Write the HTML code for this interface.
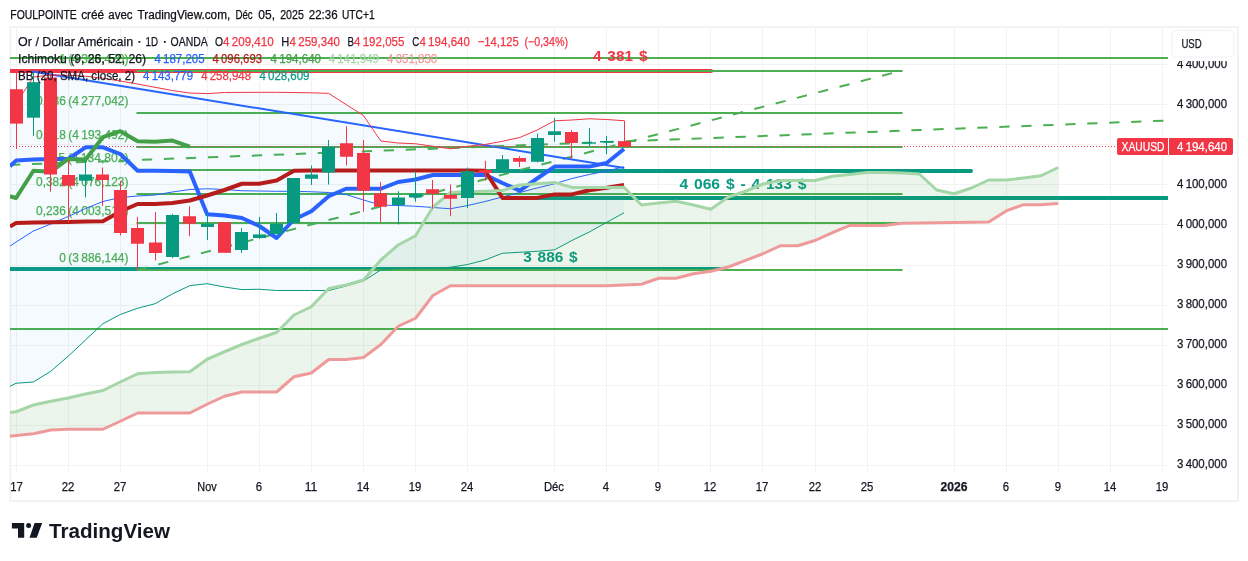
<!DOCTYPE html><html><head><meta charset="utf-8"><title>chart</title><style>html,body{margin:0;padding:0;background:#fff}svg{display:block;will-change:transform;opacity:0.9999}text.n{word-spacing:-1px}text.b{word-spacing:1.4px}</style></head><body><svg width="1248" height="561" viewBox="0 0 1248 561" font-family="Liberation Sans, sans-serif" font-size="12" fill="#131722">
<rect width="1248" height="561" fill="#fff"/>
<rect x="10.3" y="27.2" width="1227.7" height="473.8" fill="none" stroke="#eff0f2" stroke-width="1.7"/>
<defs><clipPath id="pane"><rect x="10" y="27" width="1158" height="440"/></clipPath></defs>
<line x1="16.5" y1="27" x2="16.5" y2="472" stroke="#f2f2f3" stroke-width="1"/>
<line x1="68.5" y1="27" x2="68.5" y2="472" stroke="#f2f2f3" stroke-width="1"/>
<line x1="120.5" y1="27" x2="120.5" y2="472" stroke="#f2f2f3" stroke-width="1"/>
<line x1="207.5" y1="27" x2="207.5" y2="472" stroke="#f2f2f3" stroke-width="1"/>
<line x1="259.5" y1="27" x2="259.5" y2="472" stroke="#f2f2f3" stroke-width="1"/>
<line x1="311.5" y1="27" x2="311.5" y2="472" stroke="#f2f2f3" stroke-width="1"/>
<line x1="363.5" y1="27" x2="363.5" y2="472" stroke="#f2f2f3" stroke-width="1"/>
<line x1="415.5" y1="27" x2="415.5" y2="472" stroke="#f2f2f3" stroke-width="1"/>
<line x1="467.5" y1="27" x2="467.5" y2="472" stroke="#f2f2f3" stroke-width="1"/>
<line x1="554.5" y1="27" x2="554.5" y2="472" stroke="#f2f2f3" stroke-width="1"/>
<line x1="606.5" y1="27" x2="606.5" y2="472" stroke="#f2f2f3" stroke-width="1"/>
<line x1="658.5" y1="27" x2="658.5" y2="472" stroke="#f2f2f3" stroke-width="1"/>
<line x1="710.5" y1="27" x2="710.5" y2="472" stroke="#f2f2f3" stroke-width="1"/>
<line x1="762.5" y1="27" x2="762.5" y2="472" stroke="#f2f2f3" stroke-width="1"/>
<line x1="815.5" y1="27" x2="815.5" y2="472" stroke="#f2f2f3" stroke-width="1"/>
<line x1="867.5" y1="27" x2="867.5" y2="472" stroke="#f2f2f3" stroke-width="1"/>
<line x1="954.5" y1="27" x2="954.5" y2="472" stroke="#f2f2f3" stroke-width="1"/>
<line x1="1006.5" y1="27" x2="1006.5" y2="472" stroke="#f2f2f3" stroke-width="1"/>
<line x1="1058.5" y1="27" x2="1058.5" y2="472" stroke="#f2f2f3" stroke-width="1"/>
<line x1="1110.5" y1="27" x2="1110.5" y2="472" stroke="#f2f2f3" stroke-width="1"/>
<line x1="1162.5" y1="27" x2="1162.5" y2="472" stroke="#f2f2f3" stroke-width="1"/>
<line x1="10" y1="64.5" x2="1168" y2="64.5" stroke="#f2f2f3" stroke-width="1"/>
<line x1="10" y1="104.5" x2="1168" y2="104.5" stroke="#f2f2f3" stroke-width="1"/>
<line x1="10" y1="144.5" x2="1168" y2="144.5" stroke="#f2f2f3" stroke-width="1"/>
<line x1="10" y1="184.5" x2="1168" y2="184.5" stroke="#f2f2f3" stroke-width="1"/>
<line x1="10" y1="224.5" x2="1168" y2="224.5" stroke="#f2f2f3" stroke-width="1"/>
<line x1="10" y1="265.5" x2="1168" y2="265.5" stroke="#f2f2f3" stroke-width="1"/>
<line x1="10" y1="305.5" x2="1168" y2="305.5" stroke="#f2f2f3" stroke-width="1"/>
<line x1="10" y1="345.5" x2="1168" y2="345.5" stroke="#f2f2f3" stroke-width="1"/>
<line x1="10" y1="385.5" x2="1168" y2="385.5" stroke="#f2f2f3" stroke-width="1"/>
<line x1="10" y1="425.5" x2="1168" y2="425.5" stroke="#f2f2f3" stroke-width="1"/>
<line x1="10" y1="465.5" x2="1168" y2="465.5" stroke="#f2f2f3" stroke-width="1"/>
<g clip-path="url(#pane)">
<line x1="10" y1="58" x2="1168" y2="58" stroke="#4caf50" stroke-width="2"/>
<line x1="10" y1="329" x2="1168" y2="329" stroke="#4caf50" stroke-width="2"/>
<line x1="10" y1="71" x2="711" y2="71" stroke="#f23645" stroke-width="4" stroke-linecap="round"/>
<line x1="10" y1="269" x2="722" y2="269" stroke="#089981" stroke-width="4" stroke-linecap="round"/>
<line x1="136.5" y1="71.0" x2="902.5" y2="71.0" stroke="#4caf50" stroke-width="2"/>
<text x="59.2" y="62.8" fill="#4caf50" textLength="69.3" lengthAdjust="spacingAndGlyphs" stroke="#4caf50" stroke-width="0.25" class="n" font-size="12.5">1 (4 383,470)</text>
<line x1="136.5" y1="113.0" x2="902.5" y2="113.0" stroke="#4caf50" stroke-width="2"/>
<text x="36.0" y="104.8" fill="#4caf50" textLength="92.5" lengthAdjust="spacingAndGlyphs" stroke="#4caf50" stroke-width="0.25" class="n" font-size="12.5">0,786 (4 277,042)</text>
<line x1="136.5" y1="147.0" x2="902.5" y2="147.0" stroke="#4caf50" stroke-width="2"/>
<text x="36.0" y="138.8" fill="#4caf50" textLength="92.5" lengthAdjust="spacingAndGlyphs" stroke="#4caf50" stroke-width="0.25" class="n" font-size="12.5">0,618 (4 193,492)</text>
<line x1="136.5" y1="170.0" x2="902.5" y2="170.0" stroke="#4caf50" stroke-width="2"/>
<text x="48.5" y="161.8" fill="#4caf50" textLength="80.0" lengthAdjust="spacingAndGlyphs" stroke="#4caf50" stroke-width="0.25" class="n" font-size="12.5">0,5 (4 134,802)</text>
<line x1="136.5" y1="194.0" x2="902.5" y2="194.0" stroke="#4caf50" stroke-width="2"/>
<text x="36.0" y="185.8" fill="#4caf50" textLength="92.5" lengthAdjust="spacingAndGlyphs" stroke="#4caf50" stroke-width="0.25" class="n" font-size="12.5">0,382 (4 076,123)</text>
<line x1="136.5" y1="223.0" x2="902.5" y2="223.0" stroke="#4caf50" stroke-width="2"/>
<text x="36.0" y="214.8" fill="#4caf50" textLength="92.5" lengthAdjust="spacingAndGlyphs" stroke="#4caf50" stroke-width="0.25" class="n" font-size="12.5">0,236 (4 003,513)</text>
<line x1="136.5" y1="270.0" x2="902.5" y2="270.0" stroke="#4caf50" stroke-width="2"/>
<text x="59.2" y="261.8" fill="#4caf50" textLength="69.3" lengthAdjust="spacingAndGlyphs" stroke="#4caf50" stroke-width="0.25" class="n" font-size="12.5">0 (3 886,144)</text>
<line x1="491" y1="171" x2="971" y2="171" stroke="#089981" stroke-width="4" stroke-linecap="round"/>
<line x1="505" y1="198" x2="1168" y2="198" stroke="#089981" stroke-width="4"/>
<line x1="10" y1="164.9" x2="1168" y2="120.5" stroke="#4caf50" stroke-width="2" stroke-dasharray="10.3,11.7"/>
<line x1="137" y1="270" x2="902" y2="70.5" stroke="#4caf50" stroke-width="2" stroke-dasharray="10.3,11.7"/>
<line x1="32.4" y1="71.4" x2="624.3" y2="168" stroke="#2962ff" stroke-width="2"/>
<text x="593" y="60.8" class="b" font-size="14.6" font-weight="bold" fill="#f23645" textLength="54.5" lengthAdjust="spacingAndGlyphs">4 381 $</text>
<text x="679.5" y="189.0" class="b" font-size="14.6" font-weight="bold" fill="#089981" textLength="127" lengthAdjust="spacingAndGlyphs">4 066 $ - 4 133 $</text>
<text x="523.2" y="261.5" class="b" font-size="14.6" font-weight="bold" fill="#089981" textLength="54.5" lengthAdjust="spacingAndGlyphs">3 886 $</text>
<line x1="10" y1="146.5" x2="1117" y2="146.5" stroke="#f23645" stroke-width="1" stroke-dasharray="1,2"/>
<polygon points="10.00,114.00 16.06,103.50 33.43,77.00 50.80,75.00 68.17,75.20 85.54,76.20 102.91,78.20 120.28,81.00 137.65,84.00 155.02,87.30 172.39,90.50 189.76,93.00 207.13,93.60 224.50,92.50 241.87,92.40 259.24,92.30 276.61,92.30 293.98,92.50 311.35,92.80 328.72,93.40 346.09,104.50 363.46,115.50 380.83,141.00 398.20,143.00 415.57,143.75 432.94,146.25 450.31,148.75 467.68,146.25 485.05,144.50 502.42,141.25 519.79,137.50 537.16,130.00 554.53,120.75 571.90,120.00 589.27,118.75 606.64,119.50 624.01,120.70 624.01,212.80 606.64,222.40 589.27,232.00 571.90,240.50 554.53,249.80 537.16,251.30 519.79,252.30 502.42,253.25 485.05,260.00 467.68,264.50 450.31,267.30 432.94,268.00 415.57,268.40 398.20,268.60 380.83,270.00 363.46,281.00 346.09,286.00 328.72,290.50 311.35,290.50 293.98,290.50 276.61,290.50 259.24,289.25 241.87,289.60 224.50,287.00 207.13,283.70 189.76,285.70 172.39,293.90 155.02,303.75 137.65,308.25 120.28,314.50 102.91,323.75 85.54,340.00 68.17,356.25 50.80,371.25 33.43,382.00 16.06,383.25 10.00,386.25" fill="rgba(33,150,243,0.05)"/>
<polyline points="10.00,114.00 16.06,103.50 33.43,77.00 50.80,75.00 68.17,75.20 85.54,76.20 102.91,78.20 120.28,81.00 137.65,84.00 155.02,87.30 172.39,90.50 189.76,93.00 207.13,93.60 224.50,92.50 241.87,92.40 259.24,92.30 276.61,92.30 293.98,92.50 311.35,92.80 328.72,93.40 346.09,104.50 363.46,115.50 380.83,141.00 398.20,143.00 415.57,143.75 432.94,146.25 450.31,148.75 467.68,146.25 485.05,144.50 502.42,141.25 519.79,137.50 537.16,130.00 554.53,120.75 571.90,120.00 589.27,118.75 606.64,119.50 624.01,120.70" fill="none" stroke="#f23645" stroke-width="1"/>
<polyline points="10.00,386.25 16.06,383.25 33.43,382.00 50.80,371.25 68.17,356.25 85.54,340.00 102.91,323.75 120.28,314.50 137.65,308.25 155.02,303.75 172.39,293.90 189.76,285.70 207.13,283.70 224.50,287.00 241.87,289.60 259.24,289.25 276.61,290.50 293.98,290.50 311.35,290.50 328.72,290.50 346.09,286.00 363.46,281.00 380.83,270.00 398.20,268.60 415.57,268.40 432.94,268.00 450.31,267.30 467.68,264.50 485.05,260.00 502.42,253.25 519.79,252.30 537.16,251.30 554.53,249.80 571.90,240.50 589.27,232.00 606.64,222.40 624.01,212.80" fill="none" stroke="#089981" stroke-width="1"/>
<polyline points="10.00,246.20 16.06,242.00 33.43,231.00 50.80,224.00 68.17,216.50 85.54,208.50 102.91,201.50 120.28,197.50 137.65,196.00 155.02,195.00 172.39,192.00 189.76,189.50 207.13,188.75 224.50,189.50 241.87,190.75 259.24,191.00 276.61,191.30 293.98,191.30 311.35,191.75 328.72,192.50 346.09,194.50 363.46,200.00 380.83,205.00 398.20,205.50 415.57,206.25 432.94,207.50 450.31,208.75 467.68,205.50 485.05,201.50 502.42,197.00 519.79,192.50 537.16,188.00 554.53,183.75 571.90,178.50 589.27,174.50 606.64,171.00 624.01,166.80" fill="none" stroke="#2962ff" stroke-width="1"/>
<polygon points="10.00,412.50 16.06,411.75 33.43,405.00 50.80,401.25 68.17,398.00 85.54,394.00 102.91,390.50 120.28,382.00 137.65,373.75 155.02,372.50 172.39,372.00 189.76,371.75 207.13,359.25 224.50,351.75 241.87,344.50 259.24,338.25 276.61,332.50 293.98,315.00 311.35,306.75 328.72,288.50 346.09,285.00 363.46,280.00 380.83,260.00 398.20,245.00 415.57,235.75 432.94,207.00 450.31,192.60 467.68,191.80 485.05,191.30 502.42,190.60 519.79,185.00 537.16,183.70 554.53,182.40 571.90,187.40 589.27,187.40 606.64,187.40 624.01,187.20 641.38,205.00 658.75,203.00 676.12,201.25 693.49,205.00 710.86,209.25 728.23,197.00 745.60,191.25 762.97,184.00 780.34,180.50 797.71,180.50 815.08,180.50 832.45,176.25 849.82,174.40 867.19,172.50 884.56,172.50 901.93,173.00 919.30,174.00 936.67,190.00 954.04,193.75 971.41,188.00 988.78,180.00 1006.15,180.00 1023.52,178.00 1040.89,175.75 1058.26,167.50 1058.26,203.50 1040.89,204.70 1023.52,204.70 1006.15,210.90 988.78,222.00 971.41,222.20 954.04,222.50 936.67,222.80 919.30,223.00 901.93,223.20 884.56,225.60 867.19,225.60 849.82,225.30 832.45,232.70 815.08,240.50 797.71,245.75 780.34,245.75 762.97,253.75 745.60,260.40 728.23,267.00 710.86,271.25 693.49,273.75 676.12,278.25 658.75,278.25 641.38,284.25 624.01,285.00 606.64,285.80 589.27,285.80 571.90,285.80 554.53,285.80 537.16,285.80 519.79,285.80 502.42,285.80 485.05,285.80 467.68,285.80 450.31,285.80 432.94,295.50 415.57,318.25 398.20,326.25 380.83,344.50 363.46,357.50 346.09,359.50 328.72,359.50 311.35,373.00 293.98,376.75 276.61,392.00 259.24,392.00 241.87,392.00 224.50,396.25 207.13,404.25 189.76,413.00 172.39,413.00 155.02,413.00 137.65,413.00 120.28,421.25 102.91,429.25 85.54,429.25 68.17,429.25 50.80,430.00 33.43,433.75 16.06,435.50 10.00,436.25" fill="rgba(67,160,71,0.1)"/>
<polyline points="10.00,166.20 16.06,160.60 33.43,159.50 50.80,159.00 68.17,159.00 85.54,147.30 102.91,147.30 120.28,154.00 137.65,170.70 155.02,170.70 172.39,171.00 189.76,171.60 207.13,214.25 224.50,215.50 241.87,218.00 259.24,226.00 276.61,238.00 293.98,219.50 311.35,211.20 328.72,196.25 346.09,188.75 363.46,188.75 380.83,188.75 398.20,182.00 415.57,179.50 432.94,175.00 450.31,175.00 467.68,175.00 485.05,174.70 502.42,183.00 519.79,190.60 537.16,178.50 554.53,166.60 571.90,166.60 589.27,166.60 606.64,163.00 624.01,149.00" fill="none" stroke="#2962ff" stroke-width="4" stroke-linejoin="round"/>
<polyline points="10.00,226.50 16.06,223.00 33.43,222.60 50.80,222.30 68.17,222.00 85.54,221.60 102.91,221.20 120.28,211.50 137.65,204.00 155.02,204.00 172.39,203.00 189.76,200.50 207.13,195.50 224.50,190.00 241.87,183.75 259.24,183.75 276.61,180.50 293.98,170.75 311.35,170.60 328.72,170.60 346.09,170.60 363.46,170.60 380.83,170.60 398.20,170.60 415.57,170.60 432.94,170.60 450.31,170.60 467.68,170.60 485.05,170.75 502.42,197.90 519.79,197.90 537.16,197.90 554.53,194.40 571.90,194.40 589.27,190.30 606.64,187.80 624.01,184.90" fill="none" stroke="#b71c1c" stroke-width="4" stroke-linejoin="round"/>
<polyline points="10.00,196.30 16.06,198.00 33.43,170.70 50.80,171.80 68.17,158.90 85.54,159.50 102.91,137.20 120.28,131.20 137.65,141.30 155.02,141.70 172.39,140.60 189.76,146.60" fill="none" stroke="#43a047" stroke-width="4" stroke-linejoin="round"/>
<polyline points="10.00,412.50 16.06,411.75 33.43,405.00 50.80,401.25 68.17,398.00 85.54,394.00 102.91,390.50 120.28,382.00 137.65,373.75 155.02,372.50 172.39,372.00 189.76,371.75 207.13,359.25 224.50,351.75 241.87,344.50 259.24,338.25 276.61,332.50 293.98,315.00 311.35,306.75 328.72,288.50 346.09,285.00 363.46,280.00 380.83,260.00 398.20,245.00 415.57,235.75 432.94,207.00 450.31,192.60 467.68,191.80 485.05,191.30 502.42,190.60 519.79,185.00 537.16,183.70 554.53,182.40 571.90,187.40 589.27,187.40 606.64,187.40 624.01,187.20 641.38,205.00 658.75,203.00 676.12,201.25 693.49,205.00 710.86,209.25 728.23,197.00 745.60,191.25 762.97,184.00 780.34,180.50 797.71,180.50 815.08,180.50 832.45,176.25 849.82,174.40 867.19,172.50 884.56,172.50 901.93,173.00 919.30,174.00 936.67,190.00 954.04,193.75 971.41,188.00 988.78,180.00 1006.15,180.00 1023.52,178.00 1040.89,175.75 1058.26,167.50" fill="none" stroke="#a5d6a7" stroke-width="3" stroke-linejoin="round"/>
<polyline points="10.00,436.25 16.06,435.50 33.43,433.75 50.80,430.00 68.17,429.25 85.54,429.25 102.91,429.25 120.28,421.25 137.65,413.00 155.02,413.00 172.39,413.00 189.76,413.00 207.13,404.25 224.50,396.25 241.87,392.00 259.24,392.00 276.61,392.00 293.98,376.75 311.35,373.00 328.72,359.50 346.09,359.50 363.46,357.50 380.83,344.50 398.20,326.25 415.57,318.25 432.94,295.50 450.31,285.80 467.68,285.80 485.05,285.80 502.42,285.80 519.79,285.80 537.16,285.80 554.53,285.80 571.90,285.80 589.27,285.80 606.64,285.80 624.01,285.00 641.38,284.25 658.75,278.25 676.12,278.25 693.49,273.75 710.86,271.25 728.23,267.00 745.60,260.40 762.97,253.75 780.34,245.75 797.71,245.75 815.08,240.50 832.45,232.70 849.82,225.30 867.19,225.60 884.56,225.60 901.93,223.20 919.30,223.00 936.67,222.80 954.04,222.50 971.41,222.20 988.78,222.00 1006.15,210.90 1023.52,204.70 1040.89,204.70 1058.26,203.50" fill="none" stroke="#ef9a9a" stroke-width="3" stroke-linejoin="round"/>
<rect x="16" y="72.50" width="1" height="76.50" fill="#f23645"/>
<rect x="10" y="89.20" width="13" height="34.40" fill="#f23645"/>
<rect x="33" y="72.00" width="1" height="64.00" fill="#089981"/>
<rect x="27" y="82.20" width="13" height="35.50" fill="#089981"/>
<rect x="50" y="74.00" width="1" height="117.75" fill="#f23645"/>
<rect x="44" y="77.50" width="13" height="97.00" fill="#f23645"/>
<rect x="68" y="160.00" width="1" height="62.50" fill="#f23645"/>
<rect x="62" y="175.00" width="13" height="10.75" fill="#f23645"/>
<rect x="85" y="160.00" width="1" height="37.50" fill="#089981"/>
<rect x="79" y="174.50" width="13" height="6.25" fill="#089981"/>
<rect x="102" y="167.50" width="1" height="38.50" fill="#f23645"/>
<rect x="96" y="174.50" width="13" height="5.50" fill="#f23645"/>
<rect x="120" y="181.00" width="1" height="54.50" fill="#f23645"/>
<rect x="114" y="190.00" width="13" height="43.00" fill="#f23645"/>
<rect x="137" y="217.00" width="1" height="53.00" fill="#f23645"/>
<rect x="131" y="228.00" width="13" height="15.75" fill="#f23645"/>
<rect x="155" y="212.00" width="1" height="48.50" fill="#f23645"/>
<rect x="149" y="242.50" width="13" height="10.50" fill="#f23645"/>
<rect x="172" y="213.75" width="1" height="44.25" fill="#089981"/>
<rect x="166" y="215.00" width="13" height="42.00" fill="#089981"/>
<rect x="189" y="206.25" width="1" height="30.00" fill="#f23645"/>
<rect x="183" y="216.25" width="13" height="7.50" fill="#f23645"/>
<rect x="207" y="212.50" width="1" height="27.50" fill="#089981"/>
<rect x="201" y="223.75" width="13" height="3.25" fill="#089981"/>
<rect x="224" y="222.20" width="1" height="30.60" fill="#f23645"/>
<rect x="218" y="222.20" width="13" height="30.60" fill="#f23645"/>
<rect x="241" y="228.00" width="1" height="25.00" fill="#089981"/>
<rect x="235" y="232.00" width="13" height="18.00" fill="#089981"/>
<rect x="259" y="217.00" width="1" height="22.00" fill="#089981"/>
<rect x="253" y="234.40" width="13" height="3.60" fill="#089981"/>
<rect x="276" y="213.00" width="1" height="21.30" fill="#089981"/>
<rect x="270" y="223.80" width="13" height="10.20" fill="#089981"/>
<rect x="293" y="178.00" width="1" height="45.00" fill="#089981"/>
<rect x="287" y="178.00" width="13" height="45.00" fill="#089981"/>
<rect x="311" y="165.50" width="1" height="19.50" fill="#089981"/>
<rect x="305" y="174.50" width="13" height="4.25" fill="#089981"/>
<rect x="328" y="140.00" width="1" height="44.50" fill="#089981"/>
<rect x="322" y="146.75" width="13" height="25.75" fill="#089981"/>
<rect x="346" y="126.25" width="1" height="39.25" fill="#f23645"/>
<rect x="340" y="143.25" width="13" height="13.50" fill="#f23645"/>
<rect x="363" y="140.00" width="1" height="71.75" fill="#f23645"/>
<rect x="357" y="153.00" width="13" height="37.75" fill="#f23645"/>
<rect x="380" y="182.00" width="1" height="40.00" fill="#f23645"/>
<rect x="374" y="193.25" width="13" height="13.50" fill="#f23645"/>
<rect x="398" y="191.25" width="1" height="33.25" fill="#089981"/>
<rect x="392" y="197.50" width="13" height="7.50" fill="#089981"/>
<rect x="415" y="171.25" width="1" height="30.50" fill="#089981"/>
<rect x="409" y="193.75" width="13" height="3.75" fill="#089981"/>
<rect x="432" y="180.00" width="1" height="28.75" fill="#f23645"/>
<rect x="426" y="189.25" width="13" height="4.50" fill="#f23645"/>
<rect x="450" y="184.50" width="1" height="31.75" fill="#f23645"/>
<rect x="444" y="195.00" width="13" height="3.75" fill="#f23645"/>
<rect x="467" y="167.50" width="1" height="40.50" fill="#089981"/>
<rect x="461" y="171.25" width="13" height="26.75" fill="#089981"/>
<rect x="485" y="160.75" width="1" height="19.75" fill="#f23645"/>
<rect x="479" y="170.00" width="13" height="2.90" fill="#f23645"/>
<rect x="502" y="155.00" width="1" height="15.75" fill="#089981"/>
<rect x="496" y="159.25" width="13" height="11.50" fill="#089981"/>
<rect x="519" y="156.25" width="1" height="10.75" fill="#f23645"/>
<rect x="513" y="158.00" width="13" height="3.75" fill="#f23645"/>
<rect x="537" y="133.75" width="1" height="28.75" fill="#089981"/>
<rect x="531" y="138.00" width="13" height="23.75" fill="#089981"/>
<rect x="554" y="118.00" width="1" height="23.75" fill="#089981"/>
<rect x="548" y="131.25" width="13" height="3.75" fill="#089981"/>
<rect x="571" y="130.00" width="1" height="28.75" fill="#f23645"/>
<rect x="565" y="132.00" width="13" height="11.00" fill="#f23645"/>
<rect x="589" y="128.00" width="1" height="18.50" fill="#089981"/>
<rect x="583" y="142.30" width="13" height="1.40" fill="#089981"/>
<rect x="606" y="136.00" width="1" height="18.10" fill="#089981"/>
<rect x="600" y="141.00" width="13" height="1.50" fill="#089981"/>
<rect x="624" y="120.60" width="1" height="26.20" fill="#f23645"/>
<rect x="618" y="141.10" width="13" height="5.70" fill="#f23645"/>
</g>
<text x="1177" y="67.7" textLength="50" lengthAdjust="spacingAndGlyphs" stroke="#131722" stroke-width="0.25" class="n" font-size="12.5">4 400,000</text>
<text x="1177" y="107.7" textLength="50" lengthAdjust="spacingAndGlyphs" stroke="#131722" stroke-width="0.25" class="n" font-size="12.5">4 300,000</text>
<text x="1177" y="147.6" textLength="50" lengthAdjust="spacingAndGlyphs" stroke="#131722" stroke-width="0.25" class="n" font-size="12.5">4 200,000</text>
<text x="1177" y="187.6" textLength="50" lengthAdjust="spacingAndGlyphs" stroke="#131722" stroke-width="0.25" class="n" font-size="12.5">4 100,000</text>
<text x="1177" y="227.6" textLength="50" lengthAdjust="spacingAndGlyphs" stroke="#131722" stroke-width="0.25" class="n" font-size="12.5">4 000,000</text>
<text x="1177" y="267.6" textLength="50" lengthAdjust="spacingAndGlyphs" stroke="#131722" stroke-width="0.25" class="n" font-size="12.5">3 900,000</text>
<text x="1177" y="307.6" textLength="50" lengthAdjust="spacingAndGlyphs" stroke="#131722" stroke-width="0.25" class="n" font-size="12.5">3 800,000</text>
<text x="1177" y="347.6" textLength="50" lengthAdjust="spacingAndGlyphs" stroke="#131722" stroke-width="0.25" class="n" font-size="12.5">3 700,000</text>
<text x="1177" y="387.6" textLength="50" lengthAdjust="spacingAndGlyphs" stroke="#131722" stroke-width="0.25" class="n" font-size="12.5">3 600,000</text>
<text x="1177" y="427.6" textLength="50" lengthAdjust="spacingAndGlyphs" stroke="#131722" stroke-width="0.25" class="n" font-size="12.5">3 500,000</text>
<text x="1177" y="467.6" textLength="50" lengthAdjust="spacingAndGlyphs" stroke="#131722" stroke-width="0.25" class="n" font-size="12.5">3 400,000</text>
<rect x="1169" y="28" width="68" height="33" fill="#fff"/>
<rect x="1172" y="30.5" width="62" height="26.5" rx="4.5" fill="#fff" stroke="#f0f1f3" stroke-width="1"/>
<text x="1181.4" y="47.8" textLength="20.3" lengthAdjust="spacingAndGlyphs" stroke="#131722" stroke-width="0.25">USD</text>
<path d="M1119 138 H1168 V155 H1119 Q1117 155 1117 153 V140 Q1117 138 1119 138 Z" fill="#f23645"/>
<path d="M1169 138 H1231 Q1233 138 1233 140 V153 Q1233 155 1231 155 H1169 Z" fill="#f23645"/>
<text x="1121.5" y="151" fill="#fff" textLength="43" lengthAdjust="spacingAndGlyphs" stroke="#fff" stroke-width="0.25">XAUUSD</text>
<text x="1177" y="151" fill="#fff" textLength="50" lengthAdjust="spacingAndGlyphs" stroke="#fff" stroke-width="0.25" class="n" font-size="12.5">4 194,640</text>
<text x="10.20" y="490.8" textLength="12.6" lengthAdjust="spacingAndGlyphs" stroke="#131722" stroke-width="0.25" class="n" font-size="12.5">17</text>
<text x="61.70" y="490.8" textLength="12.6" lengthAdjust="spacingAndGlyphs" stroke="#131722" stroke-width="0.25" class="n" font-size="12.5">22</text>
<text x="113.70" y="490.8" textLength="12.6" lengthAdjust="spacingAndGlyphs" stroke="#131722" stroke-width="0.25" class="n" font-size="12.5">27</text>
<text x="197.35" y="490.8" textLength="19.3" lengthAdjust="spacingAndGlyphs" stroke="#131722" stroke-width="0.25">Nov</text>
<text x="255.85" y="490.8" textLength="6.3" lengthAdjust="spacingAndGlyphs" stroke="#131722" stroke-width="0.25" class="n" font-size="12.5">6</text>
<text x="304.70" y="490.8" textLength="12.6" lengthAdjust="spacingAndGlyphs" stroke="#131722" stroke-width="0.25" class="n" font-size="12.5">11</text>
<text x="356.70" y="490.8" textLength="12.6" lengthAdjust="spacingAndGlyphs" stroke="#131722" stroke-width="0.25" class="n" font-size="12.5">14</text>
<text x="408.70" y="490.8" textLength="12.6" lengthAdjust="spacingAndGlyphs" stroke="#131722" stroke-width="0.25" class="n" font-size="12.5">19</text>
<text x="460.70" y="490.8" textLength="12.6" lengthAdjust="spacingAndGlyphs" stroke="#131722" stroke-width="0.25" class="n" font-size="12.5">24</text>
<text x="544.00" y="490.8" textLength="20.0" lengthAdjust="spacingAndGlyphs" stroke="#131722" stroke-width="0.25">Déc</text>
<text x="602.85" y="490.8" textLength="6.3" lengthAdjust="spacingAndGlyphs" stroke="#131722" stroke-width="0.25" class="n" font-size="12.5">4</text>
<text x="654.85" y="490.8" textLength="6.3" lengthAdjust="spacingAndGlyphs" stroke="#131722" stroke-width="0.25" class="n" font-size="12.5">9</text>
<text x="703.70" y="490.8" textLength="12.6" lengthAdjust="spacingAndGlyphs" stroke="#131722" stroke-width="0.25" class="n" font-size="12.5">12</text>
<text x="755.70" y="490.8" textLength="12.6" lengthAdjust="spacingAndGlyphs" stroke="#131722" stroke-width="0.25" class="n" font-size="12.5">17</text>
<text x="808.70" y="490.8" textLength="12.6" lengthAdjust="spacingAndGlyphs" stroke="#131722" stroke-width="0.25" class="n" font-size="12.5">22</text>
<text x="860.70" y="490.8" textLength="12.6" lengthAdjust="spacingAndGlyphs" stroke="#131722" stroke-width="0.25" class="n" font-size="12.5">25</text>
<text x="940.50" y="490.8" textLength="27.0" lengthAdjust="spacingAndGlyphs" font-weight="bold" stroke="#131722" stroke-width="0.25" class="n" font-size="12.5">2026</text>
<text x="1002.85" y="490.8" textLength="6.3" lengthAdjust="spacingAndGlyphs" stroke="#131722" stroke-width="0.25" class="n" font-size="12.5">6</text>
<text x="1054.85" y="490.8" textLength="6.3" lengthAdjust="spacingAndGlyphs" stroke="#131722" stroke-width="0.25" class="n" font-size="12.5">9</text>
<text x="1103.70" y="490.8" textLength="12.6" lengthAdjust="spacingAndGlyphs" stroke="#131722" stroke-width="0.25" class="n" font-size="12.5">14</text>
<text x="1155.70" y="490.8" textLength="12.6" lengthAdjust="spacingAndGlyphs" stroke="#131722" stroke-width="0.25" class="n" font-size="12.5">19</text>
<text x="10.3" y="18.7" fill="#0e1016" textLength="66.4" lengthAdjust="spacingAndGlyphs" stroke="#0e1016" stroke-width="0.25">FOULPOINTE</text>
<text x="81.2" y="18.7" fill="#0e1016" textLength="23.0" lengthAdjust="spacingAndGlyphs" stroke="#0e1016" stroke-width="0.25">créé</text>
<text x="108.3" y="18.7" fill="#0e1016" textLength="24.2" lengthAdjust="spacingAndGlyphs" stroke="#0e1016" stroke-width="0.25">avec</text>
<text x="137.5" y="18.7" fill="#0e1016" textLength="92.7" lengthAdjust="spacingAndGlyphs" stroke="#0e1016" stroke-width="0.25">TradingView.com,</text>
<text x="235.4" y="18.7" fill="#0e1016" textLength="17.3" lengthAdjust="spacingAndGlyphs" stroke="#0e1016" stroke-width="0.25">Déc</text>
<text x="258.3" y="18.7" fill="#0e1016" textLength="16.7" lengthAdjust="spacingAndGlyphs" stroke="#0e1016" stroke-width="0.25" class="n" font-size="12.5">05,</text>
<text x="280.2" y="18.7" fill="#0e1016" textLength="23.6" lengthAdjust="spacingAndGlyphs" stroke="#0e1016" stroke-width="0.25" class="n" font-size="12.5">2025</text>
<text x="308.75" y="18.7" fill="#0e1016" textLength="28.8" lengthAdjust="spacingAndGlyphs" stroke="#0e1016" stroke-width="0.25" class="n" font-size="12.5">22:36</text>
<text x="342.0" y="18.7" fill="#0e1016" textLength="32.6" lengthAdjust="spacingAndGlyphs" stroke="#0e1016" stroke-width="0.25">UTC+1</text>
<text x="18.1" y="45.7" textLength="115" lengthAdjust="spacingAndGlyphs" stroke="#131722" stroke-width="0.25">Or / Dollar Américain</text>
<rect x="138.5" y="41" width="1.8" height="1.8" fill="#131722"/>
<text x="145.6" y="45.7" textLength="12.5" lengthAdjust="spacingAndGlyphs" stroke="#131722" stroke-width="0.25" class="n" font-size="12.5">1D</text>
<rect x="163.9" y="41" width="1.8" height="1.8" fill="#131722"/>
<text x="170.6" y="45.7" textLength="37.2" lengthAdjust="spacingAndGlyphs" stroke="#131722" stroke-width="0.25">OANDA</text>
<text x="215" y="45.7" textLength="8" lengthAdjust="spacingAndGlyphs" stroke="#131722" stroke-width="0.25">O</text>
<text x="223" y="45.7" textLength="50.7" lengthAdjust="spacingAndGlyphs" fill="#f23645" stroke="#f23645" stroke-width="0.25" class="n" font-size="12.5">4 209,410</text>
<text x="281.2" y="45.7" textLength="8" lengthAdjust="spacingAndGlyphs" stroke="#131722" stroke-width="0.25">H</text>
<text x="289.5" y="45.7" textLength="50.5" lengthAdjust="spacingAndGlyphs" fill="#f23645" stroke="#f23645" stroke-width="0.25" class="n" font-size="12.5">4 259,340</text>
<text x="347.5" y="45.7" textLength="6.5" lengthAdjust="spacingAndGlyphs" stroke="#131722" stroke-width="0.25">B</text>
<text x="354" y="45.7" textLength="50.4" lengthAdjust="spacingAndGlyphs" fill="#f23645" stroke="#f23645" stroke-width="0.25" class="n" font-size="12.5">4 192,055</text>
<text x="412.2" y="45.7" textLength="7" lengthAdjust="spacingAndGlyphs" stroke="#131722" stroke-width="0.25">C</text>
<text x="419.4" y="45.7" textLength="50.6" lengthAdjust="spacingAndGlyphs" fill="#f23645" stroke="#f23645" stroke-width="0.25" class="n" font-size="12.5">4 194,640</text>
<text x="477.7" y="45.7" textLength="41.0" lengthAdjust="spacingAndGlyphs" fill="#f23645" stroke="#f23645" stroke-width="0.25" class="n" font-size="12.5">−14,125</text>
<text x="524.4" y="45.7" textLength="43.7" lengthAdjust="spacingAndGlyphs" fill="#f23645" font-size="12.3" stroke="#f23645" stroke-width="0.25">(−0,34%)</text>
<text x="18.1" y="62.9" textLength="128" lengthAdjust="spacingAndGlyphs" stroke="#131722" stroke-width="0.25">Ichimoku (9, 26, 52, 26)</text>
<text x="154.4" y="62.9" textLength="50.2" lengthAdjust="spacingAndGlyphs" fill="#2962ff" stroke="#2962ff" stroke-width="0.25" class="n" font-size="12.5">4 187,205</text>
<text x="212.5" y="62.9" textLength="49.5" lengthAdjust="spacingAndGlyphs" fill="#b71c1c" stroke="#b71c1c" stroke-width="0.25" class="n" font-size="12.5">4 096,693</text>
<text x="270.5" y="62.9" textLength="50.5" lengthAdjust="spacingAndGlyphs" fill="#43a047" stroke="#43a047" stroke-width="0.25" class="n" font-size="12.5">4 194,640</text>
<text x="328.7" y="62.9" textLength="50.3" lengthAdjust="spacingAndGlyphs" fill="#a5d6a7" stroke="#a5d6a7" stroke-width="0.25" class="n" font-size="12.5">4 141,949</text>
<text x="387" y="62.9" textLength="50.2" lengthAdjust="spacingAndGlyphs" fill="#ef9a9a" stroke="#ef9a9a" stroke-width="0.25" class="n" font-size="12.5">4 051,830</text>
<text x="18.1" y="80.0" textLength="117" lengthAdjust="spacingAndGlyphs" stroke="#131722" stroke-width="0.25">BB (20, SMA, close, 2)</text>
<text x="143" y="80.0" textLength="50" lengthAdjust="spacingAndGlyphs" fill="#2962ff" stroke="#2962ff" stroke-width="0.25" class="n" font-size="12.5">4 143,779</text>
<text x="201.2" y="80.0" textLength="49.8" lengthAdjust="spacingAndGlyphs" fill="#f23645" stroke="#f23645" stroke-width="0.25" class="n" font-size="12.5">4 258,948</text>
<text x="259.4" y="80.0" textLength="50" lengthAdjust="spacingAndGlyphs" fill="#089981" stroke="#089981" stroke-width="0.25" class="n" font-size="12.5">4 028,609</text>
<g fill="#131722">
<path d="M11.9 523 H24.2 V537.8 H18 V528.5 H11.9 Z"/>
<circle cx="28.6" cy="525.6" r="2.5"/>
<path d="M34.6 523 H42.2 L36.7 537.8 H29.5 Z"/>
<text x="49" y="537.8" font-size="20" font-weight="bold" textLength="121" lengthAdjust="spacingAndGlyphs">TradingView</text>
</g>
</svg></body></html>
